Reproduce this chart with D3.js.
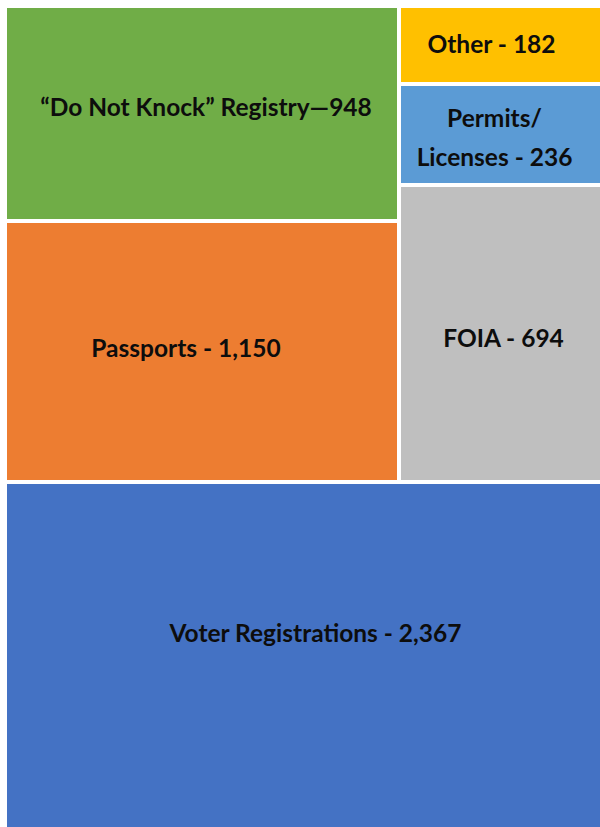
<!DOCTYPE html>
<html>
<head>
<meta charset="utf-8">
<script src="https://cdn.jsdelivr.net/npm/d3@7"></script>
<style>
  body { margin: 0; background: #fff; }
  svg { display: block; }
  .lbl { font-family: Lato, "Open Sans", sans-serif; font-weight: 700; fill: #0d0d0d; }
</style>
</head>
<body>
<svg id="chart" width="600" height="827"></svg>
<script>
// request counts per category
const categories = ["\u201cDo Not Knock\u201d Registry", "Passports", "Other", "Permits/ Licenses", "FOIA", "Voter Registrations"];
const counts = [948, 1150, 182, 236, 694, 2367];
const labels = ["\u201cDo Not Knock\u201d Registry\u2014948", "Passports - 1,150", "Other - 182",
                "Permits/|Licenses - 236", "FOIA - 694", "Voter Registrations - 2,367"];
// which block of the upper part each category lives in
const groupOf = ["left", "left", "right", "right", "right", "bottom"];

const colors = ["#70AD47", "#ED7D31", "#FFC000", "#5B9BD5", "#BFBFBF", "#4472C4"];

// small label nudges, the original had hand placed text boxes
const nudge = {
  "Passports": [-16, -3],
  "\u201cDo Not Knock\u201d Registry": [4, -6],
  "Voter Registrations": [9, -24],
  "FOIA": [0, 5],
  "Other": [-12, -1],
  "Permits/ Licenses": [-9, 3]
};

const svg = d3.select("#chart");

let items = categories.map((c, i) => ({ name: c, value: counts[i], label: labels[i], color: colors[i], group: groupOf[i] }));

let tree = {
  name: "root",
  children: [
    { name: "top", children: [
        { name: "left", children: items.filter(d => d.group == "left") },
        { name: "right", children: items.filter(d => d.group == "right") }
    ]},
    { name: "bottom", children: items.filter(d => d.group == "bottom") }
  ]
};

let root = d3.hierarchy(tree).sum(d => d.value || 0);

// slice top/bottom, dice the upper part in two columns, slice each column
let tile = (node, x0, y0, x1, y1) => {
  if (node.depth == 1 && node.data.name == "top") d3.treemapDice(node, x0, y0, x1, y1);
  else d3.treemapSlice(node, x0, y0, x1, y1);
};

d3.treemap()
  .tile(tile)
  .size([599, 823])
  .paddingInner(4)
  .round(true)(root);

let g = svg.append("g").attr("transform", "translate(7,8)");

let leaves = g.selectAll("g.leaf")
  .data(root.leaves())
  .enter().append("g")
  .attr("class", "leaf");

leaves.append("rect")
  .attr("x", d => d.x0)
  .attr("y", d => d.y0)
  .attr("width", d => d.x1 - d.x0)
  .attr("height", d => d.y1 - d.y0)
  .attr("fill", d => d.data.color);

leaves.each(function(d) {
  let n = nudge[d.data.name] || [0, 0];
  let cx = (d.x0 + d.x1) / 2 + n[0];
  let cy = (d.y0 + d.y1) / 2 + n[1];
  let lines = d.data.label.split("|");
  let lh = 39;
  let t = d3.select(this).append("text")
    .attr("class", "lbl")
    .attr("text-anchor", "middle")
    .style("font-size", "24.5px");
  lines.forEach((l, i) => {
    t.append("tspan")
      .attr("x", cx)
      .attr("y", cy + (i - (lines.length - 1) / 2) * lh)
      .attr("dy", "0.35em")
      .text(l);
  });
});
</script>
</body>
</html>
